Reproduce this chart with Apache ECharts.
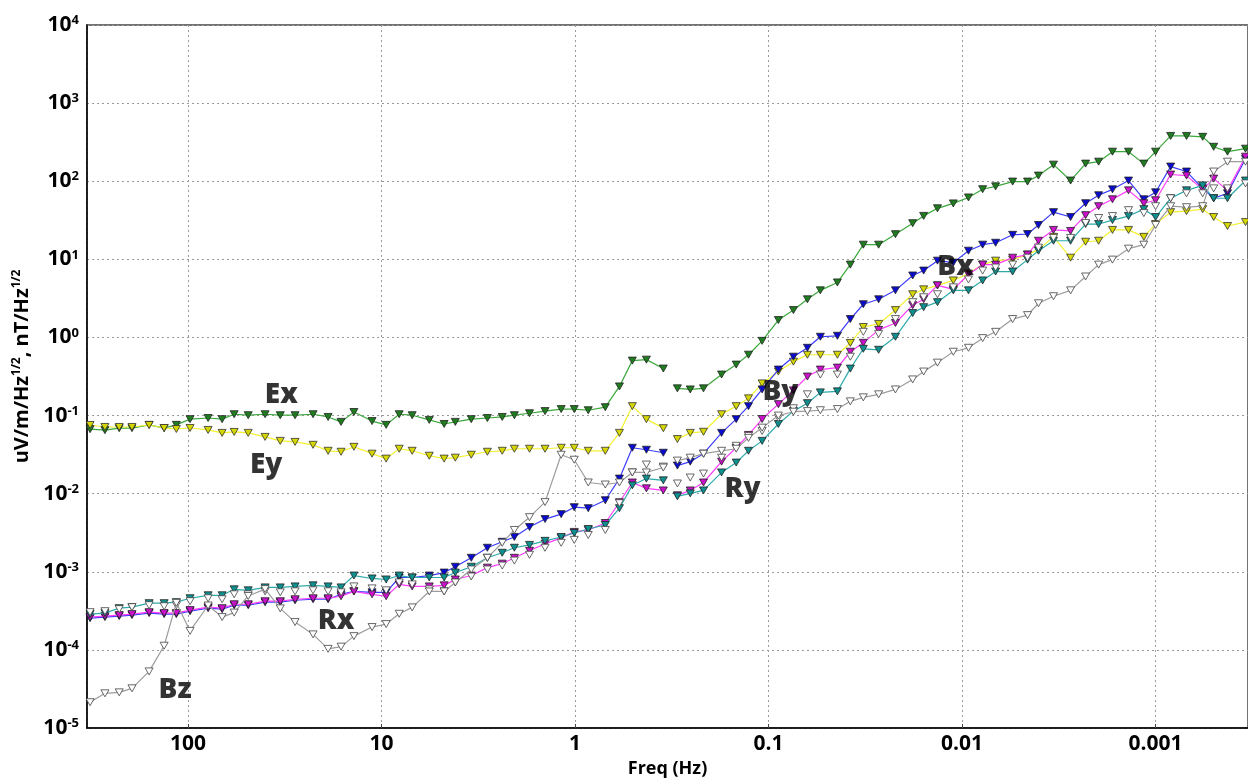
<!DOCTYPE html>
<html>
<head>
<meta charset="utf-8">
<script src="https://cdn.jsdelivr.net/npm/echarts@6/dist/echarts.min.js"></script>
<style>
  html, body { margin: 0; padding: 0; background: #fff; }
  #chart { width: 1248px; height: 783px; }
</style>
</head>
<body>
<div id="chart"></div>
<script>
// Frequencies (Hz), high to low; the two processing bands meet at BAND_BREAK
const FREQ = [321, 269, 227, 195, 159, 133, 115, 97.7, 78.8, 66.7, 57.8, 48.9, 40.0, 33.4, 28.0, 22.6, 18.9, 16.2, 13.9, 11.2,
  9.47, 8.11, 6.95, 5.67, 4.75, 4.16, 3.44, 2.84, 2.38, 2.06, 1.72, 1.43, 1.18, 1.01, 0.855, 0.698, 0.590, 0.506, 0.428, 0.350,
  0.296, 0.254, 0.217, 0.175, 0.147, 0.127, 0.108, 0.0890, 0.0744, 0.0630, 0.0540, 0.0441, 0.0378, 0.0324, 0.0270, 0.0221, 0.0180, 0.0158, 0.0134, 0.0111,
  0.00927, 0.00783, 0.00671, 0.00548, 0.00459, 0.00403, 0.00337, 0.00275, 0.00230, 0.00197, 0.00167, 0.00138, 0.00115, 0.00100, 0.000836, 0.000692, 0.000571, 0.000501, 0.000425, 0.000343];
const BAND_BREAK = 40;

// Spectral amplitudes per channel
const EX = [0.067, 0.065, 0.069, 0.069, 0.076, 0.069, 0.076, 0.090, 0.093, 0.090, 0.104, 0.101, 0.104, 0.101, 0.101, 0.104, 0.096, 0.083, 0.111, 0.085,
  0.076, 0.104, 0.101, 0.088, 0.078, 0.083, 0.090, 0.093, 0.096, 0.101, 0.107, 0.114, 0.121, 0.121, 0.117, 0.128, 0.236, 0.505, 0.52, 0.40,
  0.223, 0.216, 0.223, 0.335, 0.449, 0.601, 0.904, 1.67, 2.24, 3.08, 4.01, 5.06, 8.56, 15.4, 15.4, 21, 29, 36, 45, 52,
  62, 79, 86, 99, 99, 118, 163, 102, 168, 178, 239, 239, 168, 239, 380, 380, 370, 276, 239, 261];
const EY = [0.0757, 0.0714, 0.0714, 0.0714, 0.0757, 0.0693, 0.0673, 0.0693, 0.0654, 0.060, 0.0617, 0.060, 0.0533, 0.0474, 0.046, 0.0422, 0.0354, 0.0344, 0.0398, 0.0325,
  0.0281, 0.0376, 0.0354, 0.0306, 0.0281, 0.0289, 0.0315, 0.0344, 0.0354, 0.0376, 0.0376, 0.0376, 0.0387, 0.0387, 0.0354, 0.0354, 0.060, 0.132, 0.090, 0.069,
  0.050, 0.060, 0.062, 0.104, 0.132, 0.166, 0.258, 0.366, 0.49, 0.60, 0.60, 0.60, 0.85, 1.36, 1.49, 2.24, 3.57, 4.13, 4.64, 5.37,
  6.58, 8.56, 9.62, 9.91, 11.5, 13.3, 19.4, 10.5, 16.8, 17.3, 23.8, 23.8, 19.4, 28.3, 40.2, 41.4, 43.9, 34.8, 26.7, 30.0];
const BX = [0.000255, 0.000263, 0.000271, 0.000279, 0.000296, 0.000287, 0.000287, 0.000313, 0.000342, 0.000332, 0.000373, 0.000373, 0.000408, 0.000408, 0.000432, 0.000445, 0.000445, 0.000515, 0.000562, 0.000546,
  0.000546, 0.000845, 0.000845, 0.000895, 0.000977, 0.00116, 0.00151, 0.00203, 0.00242, 0.00279, 0.00374, 0.00473, 0.00547, 0.00671, 0.00652, 0.00824, 0.0156, 0.0387, 0.0365, 0.0334,
  0.0229, 0.0257, 0.0325, 0.060, 0.090, 0.132, 0.216, 0.388, 0.567, 0.737, 1.02, 1.05, 1.72, 2.66, 3.08, 4.01, 6.21, 7.18, 9.62, 9.08,
  12.9, 15.4, 16.3, 20.6, 21.1, 27.5, 40.2, 34.8, 52.3, 66.1, 78.7, 102, 58.7, 72.1, 154, 133, 81, 60.5, 70, 194];
const BY = [0.000263, 0.000271, 0.000279, 0.000287, 0.000304, 0.000296, 0.000296, 0.000323, 0.000352, 0.000342, 0.000384, 0.000384, 0.00042, 0.00042, 0.000445, 0.000458, 0.000458, 0.000486, 0.000562, 0.000515,
  0.000486, 0.000689, 0.00065, 0.00065, 0.00067, 0.000797, 0.000895, 0.00113, 0.00127, 0.00151, 0.00186, 0.00228, 0.00272, 0.00324, 0.00343, 0.00421, 0.00777, 0.0139, 0.0117, 0.0110,
  0.00953, 0.0110, 0.0139, 0.0257, 0.0387, 0.0565, 0.0902, 0.140, 0.210, 0.316, 0.388, 0.411, 0.656, 0.853, 1.25, 1.53, 2.59, 3.08, 4.64, 4.13,
  6.39, 8.56, 8.56, 10.5, 11.5, 17.3, 23.8, 23.1, 36.8, 47.9, 58.7, 76.4, 52.3, 57.1, 122, 118, 78.7, 108, 76.4, 206];
const RX = [0.000287, 0.000296, 0.000342, 0.000352, 0.000396, 0.000396, 0.000408, 0.000458, 0.0005, 0.0005, 0.000596, 0.000579, 0.000631, 0.000631, 0.00065, 0.00067, 0.00065, 0.000631, 0.000895, 0.000821,
  0.000797, 0.000895, 0.000845, 0.000845, 0.000845, 0.000977, 0.00116, 0.00151, 0.00175, 0.00203, 0.00221, 0.00249, 0.00279, 0.00314, 0.00353, 0.00397, 0.00652, 0.0128, 0.0156, 0.0148,
  0.00925, 0.0101, 0.0110, 0.0187, 0.0250, 0.0354, 0.0474, 0.078, 0.114, 0.144, 0.198, 0.204, 0.399, 0.716, 0.695, 1.02, 2.05, 2.44, 2.83, 4.01,
  4.01, 5.37, 6.98, 6.98, 9.91, 12.9, 17.3, 17.3, 28.3, 28.3, 31.8, 35.8, 43.9, 34.8, 60.5, 76.4, 88.4, 60.5, 60.5, 102];
const RY = [0.000304, 0.000313, 0.000332, 0.000352, 0.000373, 0.000362, 0.000373, 0.00042, 0.000458, 0.000445, 0.000515, 0.000515, 0.000562, 0.000546, 0.000562, 0.000579, 0.000562, 0.000546, 0.00065, 0.000613,
  0.000579, 0.000731, 0.000689, 0.000596, 0.000562, 0.000731, 0.00087, 0.00107, 0.0012, 0.00139, 0.00165, 0.00203, 0.00235, 0.00256, 0.00296, 0.00343, 0.00755, 0.0187, 0.0236, 0.0222,
  0.0135, 0.0161, 0.0181, 0.0289, 0.041, 0.0549, 0.0635, 0.0929, 0.124, 0.187, 0.335, 0.335, 0.567, 1.18, 1.11, 1.72, 2.83, 3.27, 3.57, 4.38,
  5.52, 7.18, 7.84, 8.56, 10.5, 14.1, 18.8, 18.8, 29.2, 33.8, 35.8, 42.6, 39.1, 47.9, 60.5, 70, 70, 81, 81, 93.7];
const BZ = [0.0000214, 0.0000278, 0.0000286, 0.0000322, 0.000053, 0.000113, 0.0004, 0.000175, 0.00037, 0.000263, 0.0003, 0.00049, 0.0006, 0.00034, 0.000227, 0.000158, 0.000103, 0.00011, 0.00015, 0.000196,
  0.000214, 0.00029, 0.00035, 0.00056, 0.00056, 0.00073, 0.00107, 0.00151, 0.00235, 0.00343, 0.0050, 0.0078, 0.0315, 0.0272, 0.0139, 0.0131, 0.0139, 0.0187, 0.0187, 0.0216,
  0.0265, 0.0289, 0.0325, 0.0354, 0.0376, 0.0518, 0.070, 0.10, 0.112, 0.114, 0.117, 0.121, 0.152, 0.171, 0.187, 0.216, 0.29, 0.366, 0.476, 0.656,
  0.737, 0.98, 1.18, 1.72, 1.93, 2.74, 3.37, 4.01, 6.03, 8.56, 9.91, 13.7, 15.4, 27.5, 47.9, 46.5, 47.9, 133, 178, 178];

// Channel name tags placed in data space
const TAG_NAMES = ['Ex', 'Ey', 'Bx', 'By', 'Rx', 'Ry', 'Bz'];
const TAG_FREQ = [33, 39.5, 0.0108, 0.0869, 17.2, 0.1365, 116.7];
const TAG_VALUE = [0.204, 0.0265, 9.08, 0.223, 0.000265, 0.0128, 0.000034];

const FONT = "'Open Sans', 'DejaVu Sans', sans-serif";

function toPoints(values) {
  const pts = [];
  values.forEach((v, i) => {
    if (i === BAND_BREAK) pts.push(['-', '-']);
    pts.push([FREQ[i], v]);
  });
  return pts;
}

function trace(name, values, lineColor, fill, edge, lineVisible, z) {
  return {
    name: name,
    type: 'line',
    data: toPoints(values),
    connectNulls: false,
    symbol: 'triangle',
    symbolRotate: 180,
    symbolSize: [8, 7],
    showSymbol: true,
    lineStyle: { color: lineColor, width: 1.2, opacity: lineVisible ? 1 : 0 },
    itemStyle: { color: fill, borderColor: edge, borderWidth: 0.8 },
    emphasis: { disabled: true },
    z: z
  };
}

const chart = echarts.init(document.getElementById('chart'), null, { renderer: 'canvas' });

const xTickText = { 100: '100', 10: '10', 1: '1', 0.1: '0.1', 0.01: '0.01', 0.001: '0.001' };

chart.setOption({
  animation: false,
  backgroundColor: '#fff',
  textStyle: { fontFamily: FONT },
  grid: { left: 87, right: 0, top: 25, bottom: 48, show: true, borderColor: '#444', borderWidth: 1.5 },
  xAxis: {
    type: 'log',
    logBase: 10,
    inverse: true,
    min: 0.000333,
    max: 333,
    name: 'Freq (Hz)',
    nameLocation: 'middle',
    nameGap: 32,
    nameTextStyle: { fontFamily: FONT, fontSize: 18, fontWeight: 'bold', color: '#000' },
    axisLine: { show: true, lineStyle: { color: '#000', width: 1.5 } },
    axisTick: { show: true, inside: true, length: 4, lineStyle: { color: '#444' } },
    axisLabel: {
      fontFamily: FONT, fontSize: 21, fontWeight: 'bold', color: '#000', margin: 6,
      showMinLabel: false, showMaxLabel: false,
      formatter: v => {
        const k = Math.round(Math.log10(v));
        return xTickText[Math.pow(10, k)] !== undefined ? xTickText[Math.pow(10, k)] : '';
      }
    },
    splitLine: { show: true, lineStyle: { color: '#9a9a9a', type: [2, 3], width: 1 } }
  },
  yAxis: {
    type: 'log',
    logBase: 10,
    min: 1e-5,
    max: 1e4,
    name: '{n|uV/m/Hz}{s|1/2}{n|, nT/Hz}{s|1/2}',
    nameLocation: 'middle',
    nameRotate: 90,
    nameGap: 50,
    nameTextStyle: {
      padding: [0, 0, 0, 20],
      rich: {
        n: { fontFamily: FONT, fontSize: 20, fontWeight: 'bold', color: '#000', lineHeight: 24 },
        s: { fontFamily: FONT, fontSize: 12, fontWeight: 'bold', color: '#000', lineHeight: 12, verticalAlign: 'top' }
      }
    },
    axisLine: { show: true, lineStyle: { color: '#000', width: 1.5 } },
    axisTick: { show: false },
    axisLabel: {
      margin: 8,
      formatter: v => '{b|10}{s|' + Math.round(Math.log10(v)) + '}',
      rich: {
        b: { fontFamily: FONT, fontSize: 21, fontWeight: 'bold', color: '#000', lineHeight: 22 },
        s: { fontFamily: FONT, fontSize: 13, fontWeight: 'bold', color: '#000', lineHeight: 13, verticalAlign: 'top' }
      }
    },
    splitLine: { show: true, lineStyle: { color: '#9a9a9a', type: [2, 3], width: 1 } }
  },
  series: [
    trace('Ex', EX, '#3aa83a', '#1f7d1f', '#222', true, 2),
    trace('Ey', EY, '#f2f230', '#d6d600', '#333', true, 2),
    trace('Bx', BX, '#3c3cff', '#0a0ad0', '#222', true, 3),
    trace('By', BY, '#ff3cff', '#cc10cc', '#222', true, 4),
    trace('Rx', RX, '#2eaaaa', '#0e9090', '#222', true, 5),
    trace('Ry', RY, '#ffffff', '#ffffff', '#444', false, 6),
    trace('Bz', BZ, '#9c9c9c', '#ffffff', '#444', true, 7),
    {
      name: 'tags',
      type: 'scatter',
      data: TAG_NAMES.map((t, i) => [TAG_FREQ[i], TAG_VALUE[i], t]),
      symbolSize: 1,
      itemStyle: { color: 'rgba(0,0,0,0)' },
      label: {
        show: true,
        position: 'inside',
        offset: [0, 4],
        formatter: p => p.data[2],
        fontFamily: FONT,
        fontSize: 28,
        fontWeight: 800,
        color: '#000'
      },
      emphasis: { disabled: true },
      z: 10
    }
  ]
});
</script>
</body>
</html>
